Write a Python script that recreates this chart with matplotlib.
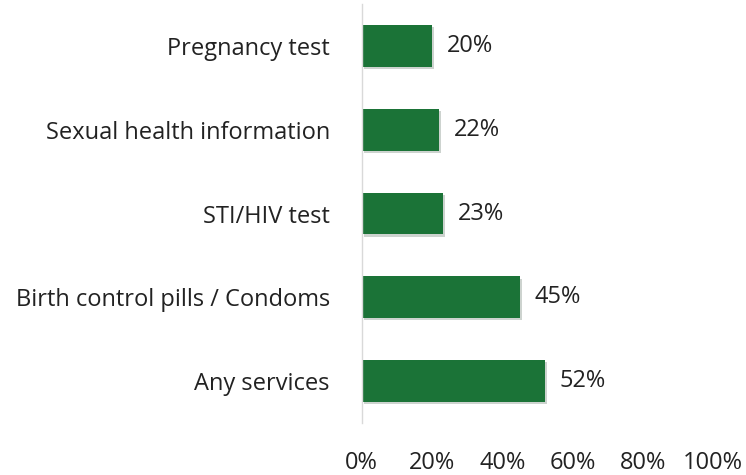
import matplotlib.pyplot as plt
import matplotlib.patheffects as pe

categories = ['Pregnancy test', 'Sexual health information', 'STI/HIV test',
              'Birth control pills / Condoms', 'Any services']
values = [20, 22, 23, 45, 52]
xticks = [0, 20, 40, 60, 80, 100]

plt.rcParams['font.family'] = ['Open Sans', 'DejaVu Sans']
fs = 17

fig = plt.figure(figsize=(7.46, 4.75), dpi=100)
ax = fig.add_axes([0.485, 0.109, 0.471, 0.883])

pos = list(range(len(categories)))
bars = ax.barh(pos, values, height=0.5, color='#1b7337')
for b in bars:
    b.set_path_effects([pe.SimplePatchShadow(offset=(1.5, -1.5), alpha=0.2), pe.Normal()])

for y, v in zip(pos, values):
    ax.text(v + 4.2, y, f'{v}%', va='center', ha='left', fontsize=fs, color='#222222')

ax.set_ylim(len(categories) - 0.5, -0.5)
ax.set_xlim(0, 100)
ax.set_yticks(pos)
ax.set_yticklabels(categories, fontsize=fs, color='#222222')
ax.set_xticks(xticks)
ax.set_xticklabels([f'{t}%' for t in xticks], fontsize=fs, color='#222222')
ax.tick_params(axis='y', length=0, pad=23)
ax.tick_params(axis='x', length=0, pad=20)

for s in ['top', 'right', 'bottom']:
    ax.spines[s].set_visible(False)
ax.spines['left'].set_color('#d9d9d9')
ax.spines['left'].set_linewidth(1)

fig.savefig('out.png', dpi=100)
